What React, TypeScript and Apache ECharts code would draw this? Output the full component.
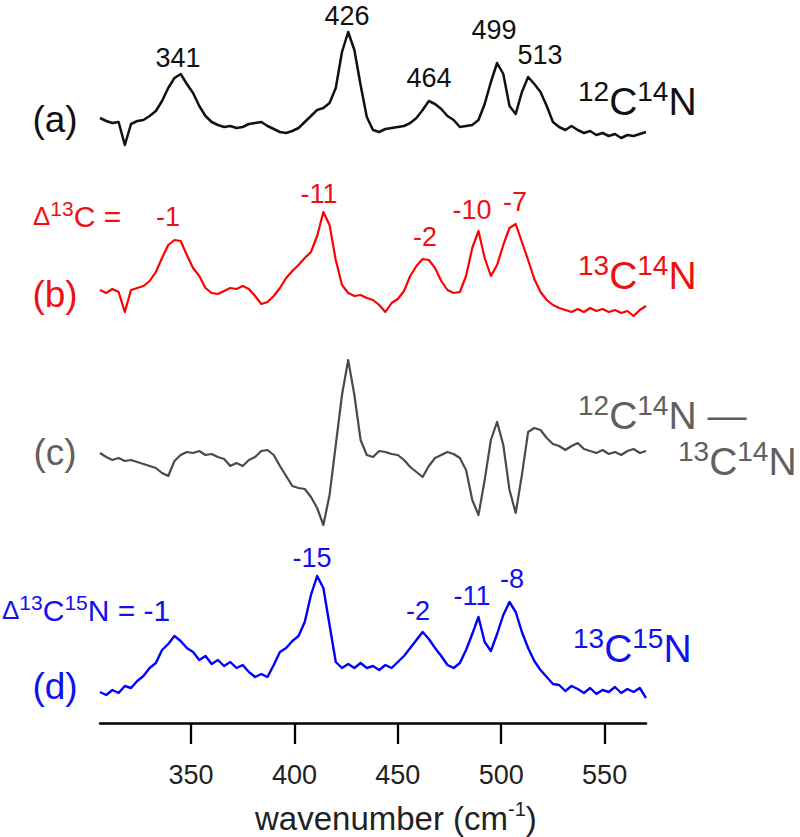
import React, { useEffect, useRef } from 'react';
import * as echarts from 'echarts';

// ---------- data ----------
const wavenumbers = [
  306, 309, 312, 315, 318, 321, 324, 327, 330, 333,
  336, 339, 342, 345, 348, 351, 354, 357, 360, 363,
  366, 369, 372, 375, 378, 381, 384, 387, 390, 393,
  396, 399, 402, 405, 408, 411, 414, 417, 420, 423,
  426, 429, 432, 435, 438, 441, 444, 447, 450, 453,
  456, 459, 462, 465, 468, 471, 474, 477, 480, 483,
  486, 489, 492, 495, 498, 501, 504, 507, 510, 513,
  516, 519, 522, 525, 528, 531, 534, 537, 540, 543,
  546, 549, 552, 555, 558, 561, 564, 567, 570,
];

// (a) 12C14N
const spec12C14N = [
  12, 9, 7, 8, -15, 6, 9, 10, 14, 19,
  29, 42, 52, 56, 46, 37, 24, 14, 8, 5,
  3, 4, 2, 3, 6, 7, 8, 4, 1, -2,
  -3, -1, 2, 8, 14, 20, 22, 27, 42, 78,
  98, 80, 45, 13, 0, -2, 1, 2, 3, 4,
  7, 12, 20, 29, 26, 21, 14, 10, 3, 4,
  5, 10, 26, 48, 67, 56, 24, 16, 38, 53,
  46, 38, 24, 8, 3, 0, 4, 0, -3, -1,
  -5, -3, -6, -4, -8, -5, -6, -4, -2,
];

// (b) 13C14N
const spec13C14N = [
  2, -1, 3, 0, -20, 2, 4, 6, 11, 20,
  34, 47, 52, 51, 37, 24, 16, 4, -1, -2,
  1, 4, 3, 6, 3, -4, -12, -10, -4, 4,
  14, 21, 27, 34, 40, 56, 80, 67, 32, 7,
  -1, -4, -3, -6, -8, -13, -20, -11, -7, 1,
  16, 26, 33, 32, 24, 11, 2, -1, 0, 16,
  44, 61, 34, 16, 27, 47, 64, 68, 50, 32,
  13, 0, -8, -13, -16, -18, -20, -17, -20, -16,
  -19, -17, -20, -18, -21, -19, -24, -18, -14,
];

// (c) difference 12C14N - 13C14N
const specDiff = [
  2, -2, -5, -3, -6, -5, -7, -9, -11, -13,
  -18, -21, -6, 0, 3, 2, 4, 0, 1, -2,
  -4, -11, -8, -11, -5, -2, 4, 5, 0, -11,
  -21, -31, -33, -34, -42, -53, -70, -40, 10, 60,
  95, 60, 15, 0, -2, 4, 3, 1, 0, -5,
  -12, -17, -22, -11, -3, 0, 3, 1, -3, -15,
  -45, -60, -25, 15, 33, 10, -35, -58, -20, 23,
  27, 25, 17, 11, 9, 5, 9, 12, 6, 4,
  2, 5, 1, 3, 0, 4, 6, 2, 4,
];

// (d) 13C15N
const spec13C15N = [
  -22, -25, -20, -23, -16, -18, -11, -6, 2, 7,
  20, 26, 34, 29, 22, 18, 10, 14, 6, 10,
  4, 8, 2, 5, -2, -7, -4, -7, 5, 18,
  22, 29, 34, 48, 75, 94, 82, 45, 8, 2,
  6, 2, 7, 2, 4, 0, 5, 2, 8, 14,
  22, 30, 38, 31, 22, 14, 5, 2, 7, 20,
  36, 53, 28, 19, 36, 55, 68, 58, 38, 22,
  9, 0, -7, -14, -15, -21, -16, -19, -23, -18,
  -24, -20, -22, -17, -23, -19, -22, -18, -28,
];

const xTicks = [350, 400, 450, 500, 550];
const peaksA = ['341', '426', '464', '499', '513'];
const shiftsB = ['-1', '-11', '-2', '-10', '-7'];
const shiftsD = ['-15', '-2', '-11', '-8'];
const panelLabels = ['(a)', '(b)', '(c)', '(d)'];

// ---------- styling / layout ----------
const FONT = '"Liberation Sans", Arial, Helvetica, sans-serif';
const BLACK = '#111111';
const RED = '#ff0000';
const RED_TXT = '#ee1111';
const GRAY = '#4a4a4a';
const GRAY_TXT = '#606060';
const BLUE = '#0000ff';
const BLUE_TXT = '#1010f0';

const txt = (x: number, y: number, text: string, size: number, fill: string, align = 'center') => ({
  type: 'text',
  x,
  y,
  silent: true,
  style: { text, fill, fontSize: size, fontFamily: FONT, align, verticalAlign: 'middle' },
});

// parts: [styleKey, text]; styles: b (big), s (superscript), d (delta)
const richTxt = (
  x: number,
  y: number,
  parts: [string, string][],
  fill: string,
  big: number,
  sup: number,
  raise: number,
  delta = 26,
) => ({
  type: 'text',
  x,
  y,
  silent: true,
  style: {
    text: parts.map(([k, t]) => `{${k}|${t}}`).join(''),
    fill,
    fontFamily: FONT,
    align: 'left',
    verticalAlign: 'middle',
    rich: {
      b: { fontSize: big, fontFamily: FONT, fill },
      s: { fontSize: sup, fontFamily: FONT, fill, padding: [0, 0, raise * 2, 0] },
      d: { fontSize: delta, fontFamily: FONT, fill },
    },
  },
});

const mk = (spec: number[], offset: number, color: string, width: number) => ({
  type: 'line',
  showSymbol: false,
  symbol: 'none',
  silent: true,
  data: wavenumbers.map((w, i) => [w, spec[i] + offset]),
  lineStyle: { color, width, join: 'round' },
});

export default function App() {
  const ref = useRef<HTMLDivElement>(null);
  useEffect(() => {
    const chart = echarts.init(ref.current!, null, { renderer: 'svg' });
    const option: any = {
      animation: false,
      backgroundColor: '#ffffff',
      grid: { left: 100, right: 154, top: 0, bottom: 114, containLabel: false },
      xAxis: {
        type: 'value',
        min: 306,
        max: 570,
        axisLine: { show: true, lineStyle: { color: '#000', width: 2.5 } },
        axisTick: { show: true, length: 21, inside: false, lineStyle: { color: '#000', width: 2.3 }, customValues: xTicks },
        axisLabel: { customValues: xTicks, fontSize: 27, color: '#222', margin: 38, fontFamily: FONT },
        splitLine: { show: false },
      },
      yAxis: { type: 'value', min: 0, max: 723, show: false },
      series: [
        mk(spec12C14N, 593, BLACK, 2.5),
        mk(spec13C14N, 431, RED, 2.2),
        mk(specDiff, 268, GRAY, 2.2),
        mk(spec13C15N, 53, BLUE, 2.4),
      ],
      graphic: [
        // panel letters
        txt(55, 119, panelLabels[0], 37, BLACK),
        txt(55, 294, panelLabels[1], 37, RED_TXT),
        txt(55, 452, panelLabels[2], 37, GRAY_TXT),
        txt(55, 686, panelLabels[3], 37, BLUE_TXT),
        // (a) peak positions
        txt(178, 58, peaksA[0], 27, BLACK),
        txt(347, 16, peaksA[1], 27, BLACK),
        txt(429, 78, peaksA[2], 27, BLACK),
        txt(494, 30, peaksA[3], 27, BLACK),
        txt(540, 55, peaksA[4], 27, BLACK),
        richTxt(578, 101, [['s', '12'], ['b', 'C'], ['s', '14'], ['b', 'N']], BLACK, 39, 28, 10),
        // (b)
        richTxt(33, 216, [['d', 'Δ'], ['s', '13'], ['b', 'C =']], RED_TXT, 30, 21, 8, 26),
        txt(168, 217, shiftsB[0], 27, RED_TXT),
        txt(319, 194, shiftsB[1], 27, RED_TXT),
        txt(425, 237, shiftsB[2], 27, RED_TXT),
        txt(472, 210, shiftsB[3], 27, RED_TXT),
        txt(515, 202, shiftsB[4], 27, RED_TXT),
        richTxt(578, 275, [['s', '13'], ['b', 'C'], ['s', '14'], ['b', 'N']], RED_TXT, 39, 28, 10),
        // (c)
        richTxt(578, 415, [['s', '12'], ['b', 'C'], ['s', '14'], ['b', 'N —']], GRAY_TXT, 39, 28, 10),
        richTxt(678, 461, [['s', '13'], ['b', 'C'], ['s', '14'], ['b', 'N']], GRAY_TXT, 39, 28, 10),
        // (d)
        richTxt(2, 610, [['d', 'Δ'], ['s', '13'], ['b', 'C'], ['s', '15'], ['b', 'N = -1']], BLUE_TXT, 30, 21, 8, 26),
        txt(312, 558, shiftsD[0], 27, BLUE_TXT),
        txt(418, 611, shiftsD[1], 27, BLUE_TXT),
        txt(472, 596, shiftsD[2], 27, BLUE_TXT),
        txt(512, 579, shiftsD[3], 27, BLUE_TXT),
        richTxt(573, 648, [['s', '13'], ['b', 'C'], ['s', '15'], ['b', 'N']], BLUE_TXT, 39, 28, 10),
        // axis title
        richTxt(255, 818, [['b', 'wavenumber (cm'], ['s', '-1'], ['b', ')']], '#222', 33, 20, 9),
      ],
    };
    chart.setOption(option);
    return () => chart.dispose();
  }, []);
  return (
    <div
      ref={ref}
      style={{ position: 'fixed', left: 0, top: 0, width: 800, height: 837, background: '#fff' }}
    />
  );
}
